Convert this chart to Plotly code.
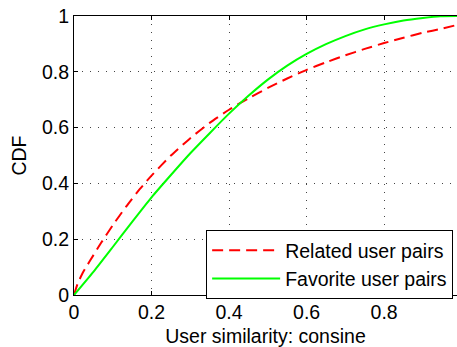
import plotly.graph_objects as go

# Related user pairs (red dashed)
x_rel = [0, 0.009, 0.022, 0.04, 0.07, 0.1, 0.135, 0.17, 0.2, 0.25, 0.3, 0.35, 0.4,
         0.45, 0.5, 0.55, 0.6, 0.65, 0.7, 0.75, 0.8, 0.85, 0.9, 0.95, 0.988]
cdf_rel = [0, 0.039, 0.078, 0.12, 0.187, 0.25, 0.318, 0.38, 0.428, 0.50, 0.562, 0.617, 0.664,
           0.705, 0.742, 0.776, 0.807, 0.834, 0.859, 0.882, 0.903, 0.922, 0.94, 0.955, 0.968]

# Favorite user pairs (green solid)
x_fav = [0, 0.05, 0.1, 0.15, 0.2, 0.25, 0.3, 0.35, 0.4, 0.45, 0.5, 0.55, 0.6,
         0.65, 0.7, 0.75, 0.8, 0.85, 0.9, 0.945, 0.988]
cdf_fav = [0, 0.083, 0.172, 0.262, 0.35, 0.43, 0.508, 0.58, 0.65, 0.714, 0.772, 0.822,
           0.864, 0.899, 0.928, 0.952, 0.97, 0.984, 0.993, 0.999, 1.0]

x_ticks = [0, 0.2, 0.4, 0.6, 0.8]
x_tick_labels = ["0", "0.2", "0.4", "0.6", "0.8"]
y_ticks = [0, 0.2, 0.4, 0.6, 0.8, 1]
y_tick_labels = ["0", "0.2", "0.4", "0.6", "0.8", "1"]

FONT = "Liberation Sans, Arial, Helvetica, sans-serif"
FS = 19.5

fig = go.Figure()
fig.add_trace(go.Scatter(x=x_rel, y=cdf_rel, mode="lines", name="Related user pairs",
                         line=dict(color="#ff0000", width=2, dash="11px,6px",
                                   shape="spline", smoothing=0.6)))
fig.add_trace(go.Scatter(x=x_fav, y=cdf_fav, mode="lines", name="Favorite user pairs",
                         line=dict(color="#00ff00", width=2,
                                   shape="spline", smoothing=0.6)))

axis_common = dict(
    showline=True, linecolor="black", linewidth=1,
    ticks="inside", ticklen=4, tickcolor="black",
    showgrid=True, gridcolor="#444444", gridwidth=1, griddash="1px,7px",
    zeroline=False,
    tickfont=dict(family=FONT, size=FS, color="black"),
)

fig.update_layout(
    width=457, height=347,
    margin=dict(l=74, r=0, t=16, b=52),
    paper_bgcolor="white", plot_bgcolor="white",
    font=dict(family=FONT, size=FS, color="black"),
    showlegend=True,
    legend=dict(x=0.345, y=0.233, xanchor="left", yanchor="top",
                bgcolor="white", bordercolor="black", borderwidth=1,
                font=dict(family=FONT, size=FS, color="black"),
                itemwidth=68, tracegroupgap=0),
    xaxis=dict(range=[0, 0.988], tickvals=x_ticks, ticktext=x_tick_labels,
               mirror="ticks",
               title=dict(text="User similarity: consine", standoff=7,
                          font=dict(family=FONT, size=FS, color="black")),
               **axis_common),
    yaxis=dict(range=[0, 1], tickvals=y_ticks, ticktext=y_tick_labels,
               mirror=False,
               title=dict(text="CDF", standoff=10,
                          font=dict(family=FONT, size=FS, color="black")),
               **axis_common),
)

fig.write_html("out.html")
